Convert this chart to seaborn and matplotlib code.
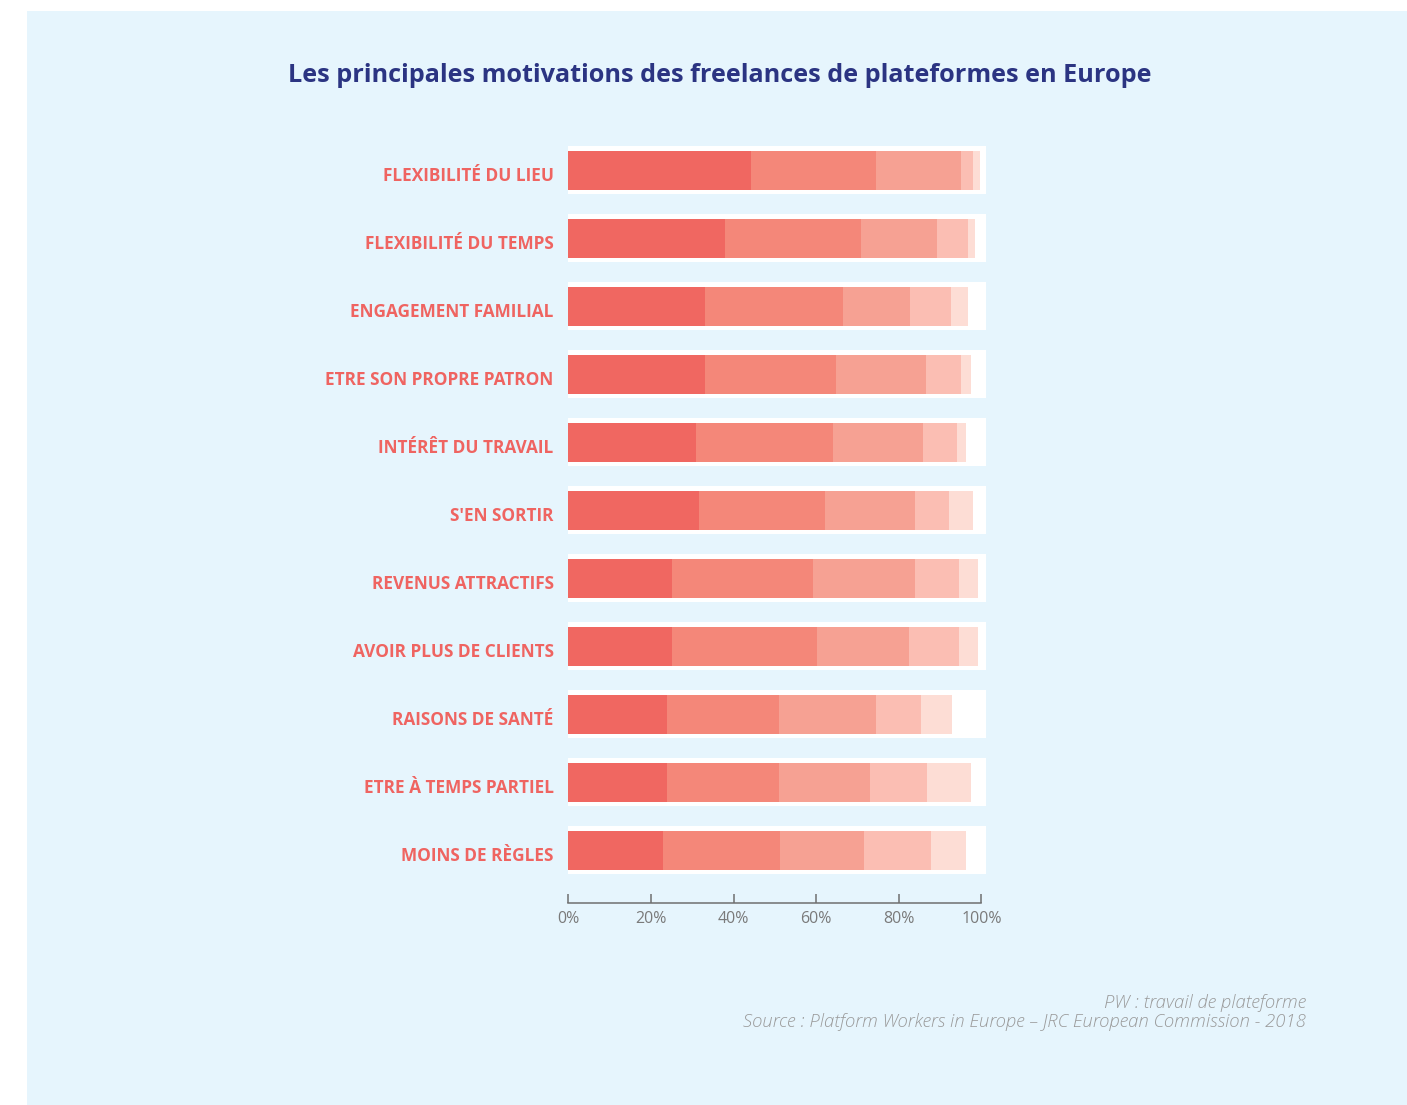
import matplotlib
matplotlib.use("Agg")
import matplotlib.pyplot as plt
import matplotlib.transforms as mtransforms
import seaborn as sns
import numpy as np
import pandas as pd
from matplotlib.patches import Rectangle

# ---------------- data ----------------
categories = [
    "FLEXIBILITÉ DU LIEU",
    "FLEXIBILITÉ DU TEMPS",
    "ENGAGEMENT FAMILIAL",
    "ETRE SON PROPRE PATRON",
    "INTÉRÊT DU TRAVAIL",
    "S'EN SORTIR",
    "REVENUS ATTRACTIFS",
    "AVOIR PLUS DE CLIENTS",
    "RAISONS DE SANTÉ",
    "ETRE À TEMPS PARTIEL",
    "MOINS DE RÈGLES",
]
seg1 = [44.3, 38.0, 33.2, 33.2, 30.8, 31.7, 25.2, 25.2, 24.0, 24.0, 23.0]
seg2 = [30.3, 32.9, 33.4, 31.7, 33.2, 30.5, 34.1, 35.1, 26.9, 27.1, 28.3]
seg3 = [20.6, 18.4, 16.2, 21.8, 21.8, 21.8, 24.7, 22.3, 23.5, 22.0, 20.3]
seg4 = [2.9, 7.5, 9.9, 8.5, 8.2, 8.2, 10.7, 12.1, 11.1, 13.8, 16.2]
seg5 = [1.7, 1.7, 4.1, 2.4, 2.4, 5.8, 4.4, 4.4, 7.5, 10.7, 8.5]
xticks = [0, 20, 40, 60, 80, 100]
xtick_labels = ["0%", "20%", "40%", "60%", "80%", "100%"]

title = "Les principales motivations des freelances de plateformes en Europe"
note1 = "PW : travail de plateforme"
note2 = "Source : Platform Workers in Europe – JRC European Commission - 2018"

colors = ["#F06761", "#F48779", "#F6A193", "#FBBEB3", "#FDDDD5"]
bg = "#E6F5FD"

segs = [seg1, seg2, seg3, seg4, seg5]
df = pd.DataFrame({"cat": categories})
cum = np.cumsum(np.array(segs), axis=0)
for k in range(5):
    df[f"c{k}"] = cum[k]
df["box"] = 101.1

# ---------------- figure ----------------
sns.set_theme(style="white")
plt.rcParams["font.family"] = ["Open Sans", "DejaVu Sans"]

W, H = 1407, 1105
fig = plt.figure(figsize=(W / 100, H / 100), dpi=100)
fig.patch.set_facecolor("white")

# light-blue panel on a background axes
bg_ax = fig.add_axes([0, 0, 1, 1], zorder=-10)
bg_ax.set_xlim(0, W)
bg_ax.set_ylim(H, 0)
bg_ax.axis("off")
bg_ax.add_patch(Rectangle((27, 11), W - 27, H - 11, facecolor=bg,
                          edgecolor="none"))

ax_left, ax_right = 568.3, 981.3
ax_top, ax_bottom = 118.0, 902.7
ax = fig.add_axes([ax_left / W, 1 - ax_bottom / H,
                   (ax_right - ax_left) / W, (ax_bottom - ax_top) / H])
ax.set_facecolor("none")

# white box behind each bar
sns.barplot(data=df, x="box", y="cat", orient="h", color="white",
            width=0.706, saturation=1, linewidth=0, ax=ax, zorder=1)
for p in ax.patches:
    p.set_clip_on(False)
# stacked segments (largest cumulative first)
for k in range(4, -1, -1):
    sns.barplot(data=df, x=f"c{k}", y="cat", orient="h", color=colors[k],
                width=0.574, saturation=1, linewidth=0, ax=ax, zorder=2)

ax.set_xlim(0, 100)
ax.set_ylim(len(categories) - 1 + 0.77, -0.77)
ax.set_xlabel("")
ax.set_ylabel("")

ax.set_xticks(xticks)
ax.set_xticklabels(xtick_labels)
ax.tick_params(axis="x", bottom=True, direction="in", length=6.5, width=1.1,
               color="#6f6f6f", pad=6, labelsize=11.5, labelcolor="#7a7a7a")
ax.tick_params(axis="y", left=False, length=0, pad=10.5)
offset = mtransforms.ScaledTranslation(0, -2.5 / 72, fig.dpi_scale_trans)
for lab in ax.get_yticklabels():
    lab.set_fontweight("bold")
    lab.set_color("#EF6461")
    lab.set_fontsize(12.4)
    lab.set_transform(lab.get_transform() + offset)

for s in ["top", "right", "left"]:
    ax.spines[s].set_visible(False)
ax.spines["bottom"].set_color("#6f6f6f")
ax.spines["bottom"].set_linewidth(1.1)
ax.spines["bottom"].set_bounds(0, 100)

fig.text(720 / W, 1 - 75 / H, title, ha="center", va="center",
         fontsize=18.2, fontweight="bold", color="#2B3482")
fig.text(1306 / W, 1 - 1003 / H, note1, ha="right", va="center",
         fontsize=13.3, style="italic", color="#9a9a9a", fontweight="light")
fig.text(1306 / W, 1 - 1022 / H, note2, ha="right", va="center",
         fontsize=13.3, style="italic", color="#9a9a9a", fontweight="light")

fig.savefig("out.png", dpi=100, facecolor=fig.get_facecolor())
